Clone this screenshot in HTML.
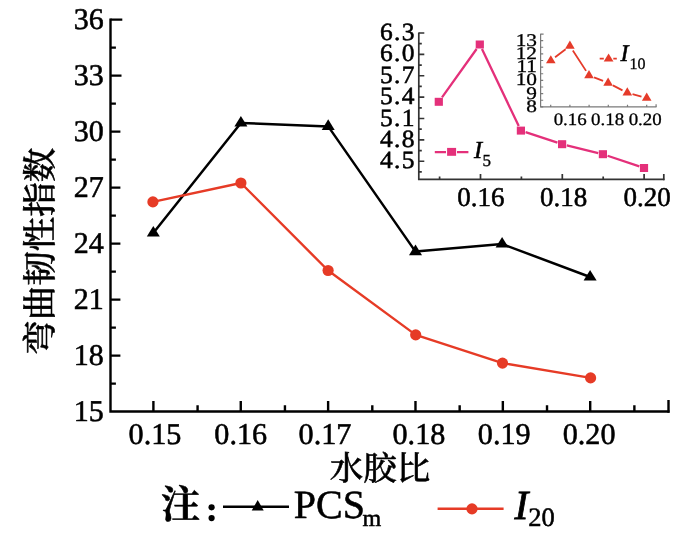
<!DOCTYPE html>
<html><head><meta charset="utf-8"><style>
html,body{margin:0;padding:0;background:#fff;width:700px;height:537px;overflow:hidden}
svg{display:block;will-change:transform}
text{font-family:"Liberation Serif", "Noto Serif CJK SC", serif;fill:#000;stroke:#000;stroke-width:0.55px;text-rendering:geometricPrecision}
.yl{font-size:30px}
.xl{font-size:30.2px}
.cjk{font-family:"Liberation Serif", "Noto Serif CJK SC", serif;font-weight:500}
.lg{font-size:40px}
.sub{font-size:24px}
.sub2{font-size:26.5px}
.iyl{font-size:25.5px;letter-spacing:1.4px}
.ixl{font-size:27px}
.ilg{font-size:24.5px;font-style:italic}
.isub{font-size:17px;stroke-width:0.35px}
.nyl{font-size:17.8px;stroke-width:0.3px}
.nxl{font-size:17.5px;stroke-width:0.3px}
.nlg{font-size:24px;font-style:italic}
.nsub{font-size:16px;stroke-width:0.3px}
</style></head><body>
<svg width="700" height="537" viewBox="0 0 700 537">
<rect width="700" height="537" fill="#fff"/>
<path d="M110.5,18.400000000000002 V411.5 H669.5" fill="none" stroke="#000" stroke-width="2.4" stroke-linejoin="miter"/>
<path d="M110.5,19.60H122.3M110.5,47.60H115.9M110.5,75.60H121.5M110.5,103.60H115.9M110.5,131.60H120.4M110.5,159.60H115.9M110.5,187.60H120.4M110.5,215.60H115.9M110.5,243.60H120.4M110.5,271.60H115.9M110.5,299.60H120.4M110.5,327.60H115.9M110.5,355.60H120.4M110.5,383.60H115.9M153.40,411.5V401.0M197.58,411.5V405.2M240.76,411.5V401.0M284.94,411.5V405.2M328.12,411.5V401.0M372.30,411.5V405.2M415.48,411.5V401.0M459.66,411.5V405.2M502.84,411.5V401.0M547.02,411.5V405.2M590.20,411.5V401.0M634.38,411.5V405.2M668.5,412.7V399.9" stroke="#000" stroke-width="2.4" fill="none"/>
<text x="103.8" y="29.3" text-anchor="end" class="yl">36</text>
<text x="103.8" y="85.3" text-anchor="end" class="yl">33</text>
<text x="103.8" y="141.3" text-anchor="end" class="yl">30</text>
<text x="103.8" y="197.3" text-anchor="end" class="yl">27</text>
<text x="103.8" y="253.3" text-anchor="end" class="yl">24</text>
<text x="103.8" y="309.3" text-anchor="end" class="yl">21</text>
<text x="103.8" y="365.3" text-anchor="end" class="yl">18</text>
<text x="103.8" y="421.3" text-anchor="end" class="yl">15</text>
<text x="155.0" y="443.9" text-anchor="middle" class="xl">0.15</text>
<text x="240.7" y="443.9" text-anchor="middle" class="xl">0.16</text>
<text x="325.0" y="443.9" text-anchor="middle" class="xl">0.17</text>
<text x="418.9" y="443.9" text-anchor="middle" class="xl">0.18</text>
<text x="504.2" y="443.9" text-anchor="middle" class="xl">0.19</text>
<text x="589.1" y="443.9" text-anchor="middle" class="xl">0.20</text>
<polyline points="153.3,233.0 240.9,123.0 328.2,126.4 415.5,251.6 502.1,244.0 590.1,277.0" fill="none" stroke="#000" stroke-width="2.5" stroke-linejoin="round"/>
<path d="M153.30,225.93L159.80,236.53L146.80,236.53Z" fill="#000"/>
<path d="M240.90,115.93L247.40,126.53L234.40,126.53Z" fill="#000"/>
<path d="M328.20,119.33L334.70,129.93L321.70,129.93Z" fill="#000"/>
<path d="M415.50,244.53L422.00,255.13L409.00,255.13Z" fill="#000"/>
<path d="M502.10,236.93L508.60,247.53L495.60,247.53Z" fill="#000"/>
<path d="M590.10,269.93L596.60,280.53L583.60,280.53Z" fill="#000"/>
<polyline points="152.9,201.9 240.9,183.0 328.1,270.5 415.7,334.9 502.5,363.1 590.6,377.9" fill="none" stroke="#E63B26" stroke-width="2.4" stroke-linejoin="round"/>
<circle cx="152.9" cy="201.9" r="5.6" fill="#E63B26"/>
<circle cx="240.9" cy="183.0" r="5.6" fill="#E63B26"/>
<circle cx="328.1" cy="270.5" r="5.6" fill="#E63B26"/>
<circle cx="415.7" cy="334.9" r="5.6" fill="#E63B26"/>
<circle cx="502.5" cy="363.1" r="5.6" fill="#E63B26"/>
<circle cx="590.6" cy="377.9" r="5.6" fill="#E63B26"/>
<text x="0" y="0" transform="translate(51.6,251.2) rotate(-90)" text-anchor="middle" class="cjk" style="font-size:34.5px">弯曲韧性指数</text>
<text x="380" y="480.0" text-anchor="middle" class="cjk" style="font-size:33.5px">水胶比</text>
<text x="161" y="517.8" class="cjk" style="font-size:39px;font-weight:700">注</text>
<circle cx="211.6" cy="507.3" r="3.1" fill="#000"/><circle cx="211.6" cy="518.1" r="3.1" fill="#000"/>
<path d="M223,506.7H289" stroke="#000" stroke-width="2.4"/>
<path d="M257.70,500.00L263.70,510.50L251.70,510.50Z" fill="#000"/>
<text x="293.8" y="517.6" class="lg">PCS</text>
<text x="362.5" y="526.3" class="sub">m</text>
<path d="M437.6,508.8H503.6" stroke="#E63B26" stroke-width="2.4"/>
<circle cx="472" cy="508.9" r="5.6" fill="#E63B26"/>
<text x="514.5" y="518.6" class="lg" style="font-style:italic;font-size:41.5px;stroke-width:0.8px">I</text>
<text x="528.2" y="526.4" class="sub2">20</text>
<path d="M418.8,32.4 V179.4 H664.4" fill="none" stroke="#333" stroke-width="1.7"/>
<path d="M418.8,33.00H424.3M418.8,43.69H421.8M418.8,54.37H424.3M418.8,65.06H421.8M418.8,75.75H424.3M418.8,86.44H421.8M418.8,97.12H424.3M418.8,107.81H421.8M418.8,118.50H424.3M418.8,129.19H421.8M418.8,139.88H424.3M418.8,150.56H421.8M418.8,161.25H424.3M418.8,171.94H421.8M439.60,179.4V176.4M480.50,179.4V173.9M521.40,179.4V176.4M562.30,179.4V173.9M603.20,179.4V176.4M644.10,179.4V173.9M663.8,180.20000000000002V173.9" stroke="#333" stroke-width="1.7" fill="none"/>
<text transform="translate(416.00,40.00) scale(1.0,0.97)" text-anchor="end" class="iyl">6.3</text>
<text transform="translate(416.00,61.37) scale(1.0,0.97)" text-anchor="end" class="iyl">6.0</text>
<text transform="translate(416.00,82.75) scale(1.0,0.97)" text-anchor="end" class="iyl">5.7</text>
<text transform="translate(416.00,104.12) scale(1.0,0.97)" text-anchor="end" class="iyl">5.4</text>
<text transform="translate(416.00,125.50) scale(1.0,0.97)" text-anchor="end" class="iyl">5.1</text>
<text transform="translate(416.00,146.88) scale(1.0,0.97)" text-anchor="end" class="iyl">4.8</text>
<text transform="translate(416.00,168.25) scale(1.0,0.97)" text-anchor="end" class="iyl">4.5</text>
<text x="480.8" y="206.1" text-anchor="middle" class="ixl">0.16</text>
<text x="563.6" y="206.1" text-anchor="middle" class="ixl">0.18</text>
<text x="647.0" y="206.1" text-anchor="middle" class="ixl">0.20</text>
<path d="M442.01,97.31L476.59,48.99M481.97,49.04L518.73,126.06M525.57,132.14L557.43,142.66M566.78,145.35L598.22,153.05M607.57,155.77L639.33,166.43" fill="none" stroke="#E4307A" stroke-width="2.3"/>
<rect x="434.70" y="97.80" width="8.2" height="8" fill="#E4307A"/>
<rect x="475.70" y="40.50" width="8.2" height="8" fill="#E4307A"/>
<rect x="516.80" y="126.60" width="8.2" height="8" fill="#E4307A"/>
<rect x="558.00" y="140.20" width="8.2" height="8" fill="#E4307A"/>
<rect x="598.80" y="150.20" width="8.2" height="8" fill="#E4307A"/>
<rect x="639.90" y="164.00" width="8.2" height="8" fill="#E4307A"/>
<path d="M434.8,152.1H446M457,152.1H468.4" stroke="#E4307A" stroke-width="2.3"/>
<rect x="447.1" y="147.9" width="9" height="7.9" fill="#E4307A"/>
<text x="474" y="158.4" class="ilg">I</text>
<text x="482.5" y="166" class="isub">5</text>
<path d="M540.6,33.8 V106.9 H656.5" fill="none" stroke="#7a7a7a" stroke-width="1.2"/>
<path d="M540.6,106.90H543.2M540.6,100.27H543.2M540.6,93.64H543.2M540.6,87.01H543.2M540.6,80.38H543.2M540.6,73.75H543.2M540.6,67.12H543.2M540.6,60.49H543.2M540.6,53.86H543.2M540.6,47.23H543.2M540.6,40.60H543.2M540.6,34.199999999999996H543.6M550.70,106.9V104.7M569.90,106.9V104.7M589.10,106.9V104.7M608.30,106.9V104.7M627.50,106.9V104.7M646.70,106.9V104.7M656.1,106.9V104.30000000000001" stroke="#7a7a7a" stroke-width="1.2" fill="none"/>
<text transform="translate(537.00,45.70) scale(1.2,1.0)" text-anchor="end" class="nyl">13</text>
<text transform="translate(537.00,58.96) scale(1.2,1.0)" text-anchor="end" class="nyl">12</text>
<text transform="translate(537.00,72.22) scale(1.2,1.0)" text-anchor="end" class="nyl">11</text>
<text transform="translate(537.00,85.48) scale(1.2,1.0)" text-anchor="end" class="nyl">10</text>
<text transform="translate(537.00,98.74) scale(1.2,1.0)" text-anchor="end" class="nyl">9</text>
<text transform="translate(537.00,112.00) scale(1.2,1.0)" text-anchor="end" class="nyl">8</text>
<text transform="translate(570.20,125.20) scale(1.08,1.0)" text-anchor="middle" class="nxl">0.16</text>
<text transform="translate(607.60,125.20) scale(1.08,1.0)" text-anchor="middle" class="nxl">0.18</text>
<text transform="translate(645.20,125.20) scale(1.08,1.0)" text-anchor="middle" class="nxl">0.20</text>
<path d="M555.08,57.31L565.62,49.19M572.83,50.43L586.07,70.87M594.03,77.37L603.07,80.93M612.90,85.37L622.50,90.33M632.52,94.17L641.48,96.53" fill="none" stroke="#E53B2A" stroke-width="1.8"/>
<path d="M550.80,55.13L555.60,63.33L546.00,63.33Z" fill="#E53B2A"/>
<path d="M569.90,40.43L574.70,48.63L565.10,48.63Z" fill="#E53B2A"/>
<path d="M589.00,69.93L593.80,78.13L584.20,78.13Z" fill="#E53B2A"/>
<path d="M608.10,77.43L612.90,85.63L603.30,85.63Z" fill="#E53B2A"/>
<path d="M627.30,87.33L632.10,95.53L622.50,95.53Z" fill="#E53B2A"/>
<path d="M646.70,92.43L651.50,100.63L641.90,100.63Z" fill="#E53B2A"/>
<path d="M599.7,58.6H603.8M613.3,58.6H616.8" stroke="#E53B2A" stroke-width="1.8"/>
<path d="M608.60,53.53L613.50,61.43L603.70,61.43Z" fill="#E53B2A"/>
<text x="620.5" y="61.0" class="nlg">I</text>
<text x="629.5" y="68.6" class="nsub">10</text>
</svg>
</body></html>
